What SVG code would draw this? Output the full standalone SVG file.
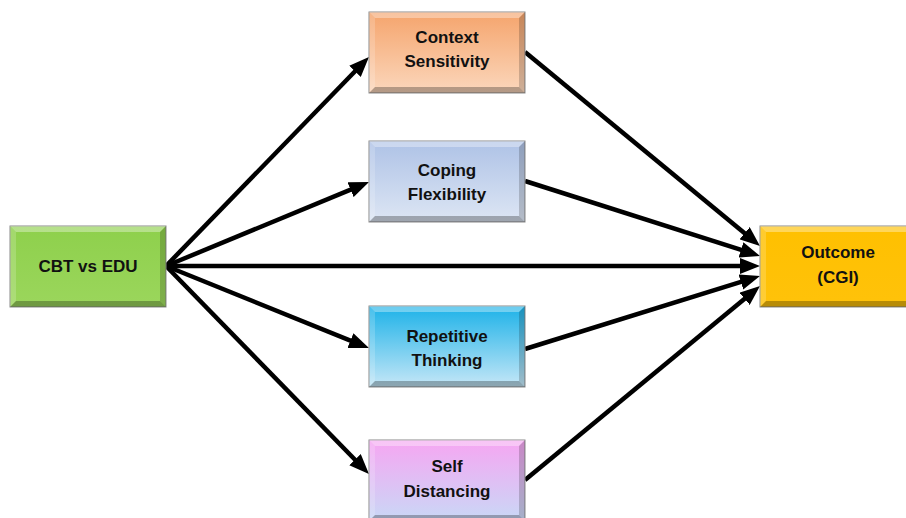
<svg xmlns="http://www.w3.org/2000/svg" xmlns:xlink="http://www.w3.org/1999/xlink" width="906" height="518" viewBox="0 0 906 518">
<style>
.box{stroke:#8a8a8a;stroke-width:1}
.lbl{font-family:"Liberation Sans",Arial,sans-serif;font-weight:bold;font-size:17px;fill:#111;text-anchor:middle}
.arr{stroke:#000;stroke-width:4.5;fill:none;marker-end:url(#ah)}
</style>
<defs>
<marker id="ah" viewBox="0 0 20 16" refX="6" refY="8" markerWidth="20" markerHeight="16" markerUnits="userSpaceOnUse" orient="auto">
<path d="M0,0 L20,8 L0,16 z" fill="#000"/>
</marker>
<linearGradient id="gGreen" x1="0" y1="0" x2="0" y2="1"><stop offset="0" stop-color="#8ED04C"/><stop offset="1" stop-color="#9BD65C"/></linearGradient>
<linearGradient id="gOrange" x1="0" y1="0" x2="0" y2="1"><stop offset="0" stop-color="#F5A46C"/><stop offset="1" stop-color="#FBD7BC"/></linearGradient>
<linearGradient id="gBlue" x1="0" y1="0" x2="0" y2="1"><stop offset="0" stop-color="#AEC2E6"/><stop offset="1" stop-color="#DDE6F4"/></linearGradient>
<linearGradient id="gCyan" x1="0" y1="0" x2="0" y2="1"><stop offset="0" stop-color="#1DB2E8"/><stop offset="1" stop-color="#C6E7F7"/></linearGradient>
<linearGradient id="gPink" x1="0" y1="0" x2="0" y2="1"><stop offset="0" stop-color="#F6A6F2"/><stop offset="1" stop-color="#C9D8F6"/></linearGradient>
<linearGradient id="gGold" x1="0" y1="0" x2="0" y2="1"><stop offset="0" stop-color="#FFC000"/><stop offset="1" stop-color="#FFC20A"/></linearGradient>
<g id="bevel">
<polygon points="0,0 156,0 150,6 6,6" fill="#fff" fill-opacity="0.35"/>
<polygon points="0,0 6,6 6,75 0,81" fill="#fff" fill-opacity="0.18"/>
<polygon points="156,0 156,81 150,75 150,6" fill="#000" fill-opacity="0.18"/>
<polygon points="0,81 156,81 150,75 6,75" fill="#000" fill-opacity="0.28"/>
</g>
</defs>
<rect width="906" height="518" fill="#fff"/>

<g id="connectors">
<path class="arr" d="M166,266 L359.2,67"/>
<path class="arr" d="M166,266 L356.1,187.4"/>
<path class="arr" d="M166,266 L746,266"/>
<path class="arr" d="M166,266 L356,342.8"/>
<path class="arr" d="M166,266 L359.2,464"/>
<path class="arr" d="M525,52 L749.2,237.1"/>
<path class="arr" d="M525,181 L746.7,251.7"/>
<path class="arr" d="M525,349 L746.6,280.2"/>
<path class="arr" d="M525,480 L749.2,294.9"/>
</g>

<g id="cbt">
<rect class="box" x="10" y="226" width="156" height="81" fill="url(#gGreen)"/>
<use xlink:href="#bevel" x="10" y="226"/>
<text class="lbl" x="88" y="272">CBT vs EDU</text>
</g>

<g id="context">
<rect class="box" x="369" y="12" width="156" height="81" fill="url(#gOrange)"/>
<use xlink:href="#bevel" x="369" y="12"/>
<text class="lbl" x="447" y="43">Context</text>
<text class="lbl" x="447" y="67">Sensitivity</text>
</g>

<g id="coping">
<rect class="box" x="369" y="141" width="156" height="81" fill="url(#gBlue)"/>
<use xlink:href="#bevel" x="369" y="141"/>
<text class="lbl" x="447" y="176">Coping</text>
<text class="lbl" x="447" y="200">Flexibility</text>
</g>

<g id="repetitive">
<rect class="box" x="369" y="306" width="156" height="81" fill="url(#gCyan)"/>
<use xlink:href="#bevel" x="369" y="306"/>
<text class="lbl" x="447" y="342">Repetitive</text>
<text class="lbl" x="447" y="366">Thinking</text>
</g>

<g id="self">
<rect class="box" x="369" y="440" width="156" height="81" fill="url(#gPink)"/>
<use xlink:href="#bevel" x="369" y="440"/>
<text class="lbl" x="447" y="472">Self</text>
<text class="lbl" x="447" y="497">Distancing</text>
</g>

<g id="outcome">
<rect class="box" x="760" y="226" width="156" height="81" fill="url(#gGold)"/>
<use xlink:href="#bevel" x="760" y="226"/>
<text class="lbl" x="838" y="258">Outcome</text>
<text class="lbl" x="838" y="283">(CGI)</text>
</g>
</svg>
